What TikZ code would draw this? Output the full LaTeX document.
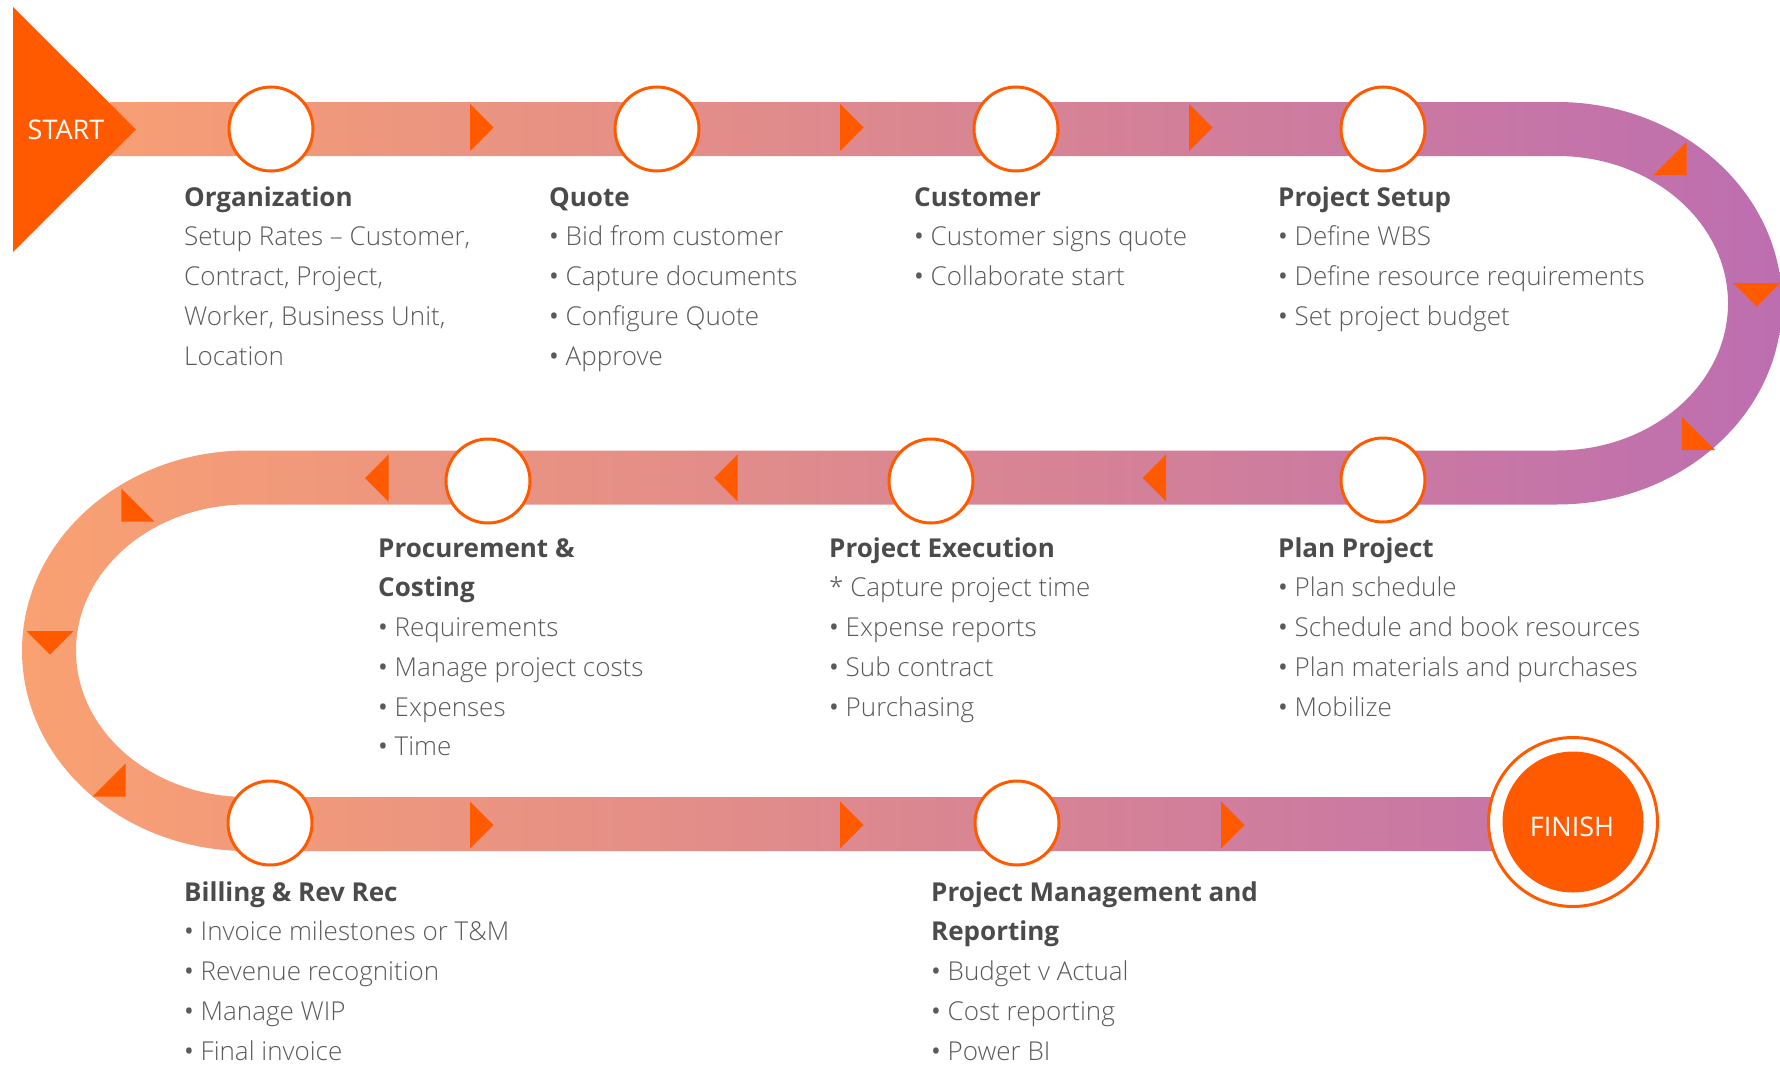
\documentclass[tikz,border=0pt]{standalone}
\usepackage{fontspec}
\setmainfont{Open Sans}[UprightFont={* Light},BoldFont={*}]
\newfontfamily\capsfont{Open Sans}
\newfontfamily\headfont{Open Sans}[UprightFont={* Bold}]
\usepackage{tikz}
\usepackage{xcolor}

\definecolor{accent}{HTML}{FF5A00}
\definecolor{bandL}{HTML}{FAA171}
\definecolor{bandR}{HTML}{BD6EB0}
\definecolor{headgray}{HTML}{4B4B4B}
\definecolor{bodygray}{HTML}{5A5A5A}
\newcommand\sthead[1]{{\strut\headfont\color{headgray}#1}}
\newcommand\bul{{\capsfont•}\ }

\begin{document}
\begin{tikzpicture}
[%%%%%%%%%%%%%%%%%%%%%%%%%%%%%%
x=1pt,y=1pt,
stage/.style={circle,draw=accent,line width=3pt,fill=white,minimum size=84pt,inner sep=0pt},
blurb/.style={anchor=north west,inner sep=0pt,align=left,text=bodygray,font=\fontsize{26}{39.75}\selectfont},
badge/.style={text=white,inner sep=0pt,font=\capsfont\fontsize{27}{30}\selectfont},
ptr/.pic={\fill[accent] (0,-23.5) -- (23.5,0) -- (0,23.5) -- cycle;},
]%%%%%%%%%%%%%%%%%%%%%%%%%%%%%%
\useasboundingbox (0,0) rectangle (1780,-1065);

% the winding road
\shade[left color=bandL,right color=bandR]
 (110,-102) -- (1557,-102)
 arc[start angle=90,end angle=-90,x radius=225,y radius=201.25]
 -- (247,-504.5)
 arc[start angle=90,end angle=270,x radius=171,y radius=146.25]
 -- (1500,-797) -- (1500,-851) -- (247,-851)
 arc[start angle=270,end angle=90,x radius=225,y radius=200.25]
 -- (1557,-450.5)
 arc[start angle=-90,end angle=90,x radius=171,y radius=147.25]
 -- (110,-156) -- cycle;

% direction marks
\foreach \x in {470,840,1189} \pic at (\x,-127.5) {ptr};
\foreach \x in {388.5,737.5,1166} \pic[rotate=180] at (\x,-478) {ptr};
\foreach \x in {470,840,1221} \pic at (\x,-825) {ptr};
\pic[rotate=-45] at (1670,-158.5) {ptr};
\pic[rotate=-90] at (1756.5,-283) {ptr};
\pic[rotate=-135] at (1698.5,-433.5) {ptr};
\pic[rotate=-135] at (138,-505) {ptr};
\pic[rotate=-90] at (50,-631) {ptr};
\pic[rotate=-45] at (109,-780) {ptr};

% start and finish
\fill[accent] (13,-7) -- (136,-129.5) -- (13,-252) -- cycle;
\node[badge] (start) at (66,-130) {START};
\node[circle,draw=accent,line width=3pt,fill=white,minimum size=169pt] (finish-ring) at (1573,-822) {};
\node[circle,fill=accent,minimum size=141pt] (finish) at (1573,-822) {};
\node[badge] (finish-txt) at (1572,-827) {FINISH};

% milestones
\foreach \n/\x/\y in {org/271/129,quote/657/129,cust/1016/129,setup/1383/129,
 plan/1383/480,exec/931/481,proc/488/481,bill/270/823,pmr/1017/823}
\node[stage] (\n) at (\x,-\y) {};

% row 1
\node[blurb] (org-txt) at (184,-178.2) {\sthead{Organization}\\Setup Rates – Customer,\\Contract, Project,\\Worker, Business Unit,\\Location};
\node[blurb] (quote-txt) at (549,-178.2) {\sthead{Quote}\\\bul Bid from customer\\\bul Capture documents\\\bul Configure Quote\\\bul Approve};
\node[blurb] (cust-txt) at (914,-178.2) {\sthead{Customer}\\\bul Customer signs quote\\\bul Collaborate start};
\node[blurb] (setup-txt) at (1278,-178.2) {\sthead{Project Setup}\\\bul Define WBS\\\bul Define resource requirements\\\bul Set project budget};

% row 2
\node[blurb] (proc-txt) at (378,-529.2) {\sthead{Procurement \&}\\\sthead{Costing}\\\bul Requirements\\\bul Manage project costs\\\bul Expenses\\\bul Time};
\node[blurb] (exec-txt) at (829,-529.2) {\sthead{Project Execution}\\* Capture project time\\\bul Expense reports\\\bul Sub contract\\\bul Purchasing};
\node[blurb] (plan-txt) at (1278,-529.2) {\sthead{Plan Project}\\\bul Plan schedule\\\bul Schedule and book resources\\\bul Plan materials and purchases\\\bul Mobilize};

% row 3
\node[blurb] (bill-txt) at (184,-873.2) {\sthead{Billing \& Rev Rec}\\\bul Invoice milestones or T\&M\\\bul Revenue recognition\\\bul Manage WIP\\\bul Final invoice};
\node[blurb] (pmr-txt) at (931,-873.2) {\sthead{Project Management and}\\\sthead{Reporting}\\\bul Budget v Actual\\\bul Cost reporting\\\bul Power BI};
\end{tikzpicture}
\end{document}
